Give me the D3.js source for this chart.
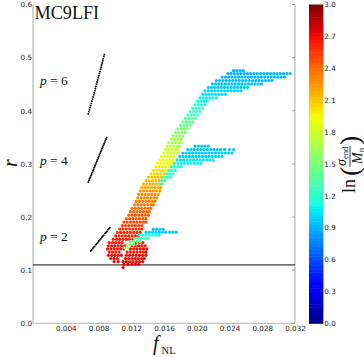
<!DOCTYPE html>
<html>
<head>
<meta charset="utf-8">
<script src="https://cdn.jsdelivr.net/npm/d3@7"></script>
<style>
  body { margin: 0; background: #fff; }
  svg { display: block; }
</style>
</head>
<body>
<svg id="chart" width="364" height="357"></svg>
<script>
// ---- data ----
const xTicks = [0.004, 0.008, 0.012, 0.016, 0.020, 0.024, 0.028, 0.032];
const yTicks = [0.0, 0.1, 0.2, 0.3, 0.4, 0.5, 0.6];
const cbTicks = [0.0, 0.3, 0.6, 0.9, 1.2, 1.5, 1.8, 2.1, 2.4, 2.7, 3.0];
const rRef = 0.11;
const panelName = "MC9LFI";

// black model curves [fNL, r]
const p6Line = [[0.00675,0.394],[0.00683,0.398],[0.00690,0.402],[0.00697,0.406],[0.00704,0.410],[0.00712,0.414],[0.00719,0.418],[0.00726,0.422],[0.00733,0.426],[0.00741,0.430],[0.00748,0.434],[0.00755,0.438],[0.00762,0.442],[0.00769,0.446],[0.00776,0.450],[0.00783,0.454],[0.00790,0.458],[0.00797,0.462],[0.00804,0.466],[0.00811,0.470],[0.00818,0.474],[0.00825,0.478],[0.00831,0.482],[0.00838,0.486],[0.00845,0.490],[0.00852,0.494],[0.00858,0.498],[0.00865,0.502],[0.00872,0.506]];
const p4Line = [[0.00676,0.266],[0.00684,0.269],[0.00692,0.272],[0.00700,0.275],[0.00708,0.278],[0.00716,0.281],[0.00724,0.284],[0.00732,0.287],[0.00740,0.290],[0.00748,0.293],[0.00756,0.296],[0.00764,0.299],[0.00772,0.302],[0.00780,0.305],[0.00788,0.308],[0.00796,0.311],[0.00804,0.314],[0.00812,0.317],[0.00820,0.320],[0.00828,0.323],[0.00836,0.326],[0.00844,0.329],[0.00852,0.332],[0.00860,0.335],[0.00868,0.338],[0.00876,0.341],[0.00884,0.344],[0.00892,0.347],[0.00900,0.350]];
const p2Line = [[0.00705,0.136],[0.00717,0.138],[0.00730,0.141],[0.00742,0.143],[0.00754,0.145],[0.00767,0.148],[0.00779,0.150],[0.00792,0.152],[0.00804,0.155],[0.00816,0.157],[0.00829,0.159],[0.00841,0.162],[0.00853,0.164],[0.00866,0.166],[0.00878,0.169],[0.00891,0.171],[0.00903,0.173],[0.00915,0.176],[0.00928,0.178],[0.00940,0.180]];

// scatter, one row per r level: [r, ln(sigma_end/M_n), fNL...]
const cloudRows = [
  [0.152, 2.66, 0.0093,0.0097,0.0101,0.0105,0.0109,0.0126,0.0130,0.0134],
  [0.146, 2.68, 0.0092,0.0096,0.0100,0.0104,0.0108,0.0112,0.0121,0.0125,0.0129,0.0133,0.0137],
  [0.140, 2.70, 0.0091,0.0095,0.0099,0.0103,0.0107,0.0111,0.0119,0.0123,0.0127,0.0131,0.0135,0.0139],
  [0.134, 2.67, 0.0093,0.0097,0.0101,0.0105,0.0115,0.0119,0.0123,0.0127,0.0131,0.0135,0.0138],
  [0.128, 2.70, 0.0092,0.0096,0.0100,0.0104,0.0108,0.0114,0.0118,0.0122,0.0126,0.0130,0.0134,0.0138],
  [0.122, 2.72, 0.0095,0.0099,0.0103,0.0113,0.0117,0.0121,0.0125,0.0129,0.0133,0.0136],
  [0.116, 2.70, 0.0099,0.0104,0.0110,0.0114,0.0118,0.0122,0.0126,0.0130,0.0134],
  [0.111, 2.74, 0.0111,0.0116,0.0121,0.0125,0.0129],
  [0.105, 2.70, 0.0110]
];
const p6Rows = [
  [0.158, 2.66, 0.0098,0.0102,0.0106,0.0110,0.0114,0.0118,0.0122],
  [0.1645, 2.63, 0.0101,0.0105,0.0109,0.0113,0.0117,0.0121,0.0125,0.0129],
  [0.171, 2.60, 0.0103,0.0107,0.0111,0.0115,0.0119,0.0123,0.0127,0.0131],
  [0.1775, 2.57, 0.0106,0.0110,0.0114,0.0118,0.0122,0.0126,0.0130,0.0133],
  [0.184, 2.54, 0.0109,0.0113,0.0117,0.0121,0.0125,0.0129,0.0133],
  [0.1905, 2.51, 0.0111,0.0115,0.0119,0.0123,0.0127,0.0131,0.0135,0.0138],
  [0.197, 2.48, 0.0114,0.0118,0.0122,0.0126,0.0130,0.0134,0.0138],
  [0.2035, 2.45, 0.0117,0.0121,0.0125,0.0129,0.0133,0.0137,0.0141],
  [0.210, 2.42, 0.0119,0.0123,0.0127,0.0131,0.0135,0.0139,0.0142],
  [0.2165, 2.40, 0.0121,0.0125,0.0129,0.0133,0.0137,0.0141,0.0144],
  [0.223, 2.37, 0.0124,0.0128,0.0132,0.0136,0.0140,0.0144,0.0147],
  [0.2295, 2.34, 0.0126,0.0130,0.0134,0.0138,0.0142,0.0146,0.0149],
  [0.236, 2.31, 0.0128,0.0132,0.0136,0.0140,0.0144,0.0148,0.0151],
  [0.2425, 2.28, 0.0129,0.0133,0.0137,0.0141,0.0145,0.0149,0.0153],
  [0.249, 2.25, 0.0131,0.0135,0.0139,0.0143,0.0147,0.0151,0.0155],
  [0.2555, 2.22, 0.0133,0.0137,0.0141,0.0145,0.0149,0.0153,0.0156],
  [0.262, 2.18, 0.0135,0.0139,0.0143,0.0147,0.0151,0.0155],
  [0.2685, 2.14, 0.0138,0.0142,0.0146,0.0150,0.0154,0.0158],
  [0.275, 2.10, 0.0141,0.0145,0.0149,0.0153,0.0157,0.0161],
  [0.2815, 2.06, 0.0144,0.0148,0.0152,0.0156,0.0160,0.0164],
  [0.288, 2.02, 0.0147,0.0151,0.0155,0.0159,0.0163,0.0167],
  [0.2945, 1.98, 0.0150,0.0154,0.0158,0.0162,0.0166,0.0169],
  [0.301, 1.94, 0.0152,0.0156,0.0160,0.0164,0.0168,0.0171],
  [0.3075, 1.90, 0.0155,0.0159,0.0163,0.0167,0.0171],
  [0.314, 1.86, 0.0157,0.0161,0.0165,0.0169,0.0173],
  [0.3205, 1.82, 0.0160,0.0164,0.0168,0.0172,0.0176],
  [0.327, 1.78, 0.0162,0.0166,0.0170,0.0174,0.0177],
  [0.3335, 1.73, 0.0164,0.0168,0.0172,0.0176,0.0179],
  [0.340, 1.68, 0.0166,0.0170,0.0174,0.0178,0.0181],
  [0.3465, 1.64, 0.0169,0.0173,0.0177,0.0181],
  [0.353, 1.60, 0.0171,0.0175,0.0179,0.0183],
  [0.3595, 1.55, 0.0174,0.0178,0.0182,0.0186],
  [0.366, 1.50, 0.0177,0.0181,0.0185,0.0189],
  [0.3725, 1.45, 0.0180,0.0184,0.0188,0.0192],
  [0.379, 1.40, 0.0183,0.0187,0.0191,0.0195],
  [0.3855, 1.35, 0.0186,0.0190,0.0194,0.0198],
  [0.392, 1.30, 0.0189,0.0193,0.0197,0.0201],
  [0.3985, 1.26, 0.0192,0.0196,0.0200,0.0204],
  [0.405, 1.22, 0.0195,0.0199,0.0203,0.0207],
  [0.4115, 1.18, 0.0198,0.0202,0.0206,0.0210],
  [0.418, 1.12, 0.0201,0.0205,0.0209,0.0213],
  [0.4245, 1.08, 0.0204,0.0208,0.0212,0.0216,0.0220,0.0224],
  [0.431, 1.04, 0.0207,0.0211,0.0215,0.0219,0.0223,0.0227,0.0231,0.0235],
  [0.4375, 1.00, 0.0210,0.0214,0.0218,0.0222,0.0226,0.0230,0.0234,0.0238,0.0242,0.0246,0.0250,0.0254],
  [0.444, 0.97, 0.0214,0.0218,0.0222,0.0226,0.0230,0.0234,0.0238,0.0242,0.0246,0.0250,0.0254,0.0258,0.0262],
  [0.4505, 0.95, 0.0219,0.0223,0.0227,0.0231,0.0235,0.0239,0.0243,0.0247,0.0251,0.0255,0.0259,0.0263,0.0267,0.0271,0.0275,0.0279],
  [0.457, 0.93, 0.0224,0.0228,0.0232,0.0236,0.0240,0.0244,0.0248,0.0252,0.0256,0.0260,0.0264,0.0268,0.0272,0.0276,0.0280,0.0284,0.0288,0.0292],
  [0.4635, 0.92, 0.0231,0.0235,0.0239,0.0243,0.0247,0.0251,0.0255,0.0259,0.0263,0.0267,0.0271,0.0275,0.0279,0.0283,0.0287,0.0291,0.0295,0.0299,0.0303,0.0307],
  [0.470, 0.90, 0.0238,0.0242,0.0246,0.0250,0.0254,0.0258,0.0262,0.0266,0.0270,0.0274,0.0278,0.0282,0.0286,0.0290,0.0294,0.0298,0.0302,0.0306,0.0310,0.0314],
  [0.4755, 0.90, 0.0245,0.0249,0.0253,0.0257]
];
const p4Rows = [
  [0.262, 1.30, 0.0154,0.0158],
  [0.2685, 1.28, 0.0157,0.0161],
  [0.275, 1.25, 0.0160,0.0164,0.0168],
  [0.2815, 1.22, 0.0163,0.0167,0.0171],
  [0.288, 1.18, 0.0166,0.0170,0.0174],
  [0.2945, 1.14, 0.0169,0.0173,0.0177,0.0181],
  [0.301, 1.10, 0.0173,0.0177,0.0181,0.0185,0.0189,0.0193,0.0197,0.0201,0.0205],
  [0.3075, 1.05, 0.0176,0.0180,0.0184,0.0188,0.0192,0.0196,0.0200,0.0204,0.0208,0.0212,0.0216,0.0220],
  [0.314, 1.00, 0.0179,0.0183,0.0187,0.0191,0.0195,0.0199,0.0203,0.0207,0.0211,0.0215,0.0219,0.0223,0.0227,0.0231],
  [0.3205, 0.97, 0.0183,0.0187,0.0191,0.0195,0.0199,0.0203,0.0207,0.0211,0.0215,0.0219,0.0223,0.0227,0.0231,0.0235,0.0239,0.0243],
  [0.327, 0.95, 0.0189,0.0193,0.0197,0.0201,0.0205,0.0209,0.0213,0.0217,0.0221,0.0225,0.0229,0.0234,0.0240,0.0245],
  [0.3335, 0.95, 0.0198,0.0202,0.0206,0.0210,0.0214]
];
const p2Rows = [
  [0.142, 1.60, 0.0112,0.0116],
  [0.148, 1.50, 0.0115,0.0119,0.0123],
  [0.154, 1.40, 0.0119,0.0123,0.0127,0.0131],
  [0.160, 1.28, 0.0124,0.0128,0.0132,0.0136,0.0140],
  [0.166, 1.12, 0.0130,0.0134,0.0138,0.0142,0.0146,0.0150,0.0154],
  [0.1715, 0.98, 0.0138,0.0142,0.0146,0.0150,0.0154,0.0158,0.0162,0.0167,0.0171,0.0175],
  [0.177, 0.93, 0.0147,0.0151,0.0155,0.0159]
];
const pLabels = [["6", 0.4476], ["4", 0.298], ["2", 0.155]];

// ---- setup ----
const svg = d3.select("#chart");
const x = d3.scaleLinear().domain([0, 0.032]).range([33, 295]);
const y = d3.scaleLinear().domain([0, 0.6]).range([323.3, 4.5]);
const cb = d3.scaleLinear().domain([0, 3]).range([323.3, 4.5]);

// matplotlib "jet"
const jetR = d3.scaleLinear().domain([0, 0.35, 0.66, 0.89, 1]).range([0, 0, 1, 1, 0.5]).clamp(true);
const jetG = d3.scaleLinear().domain([0, 0.125, 0.375, 0.64, 0.91, 1]).range([0, 0, 1, 1, 0, 0]).clamp(true);
const jetB = d3.scaleLinear().domain([0, 0.11, 0.34, 0.65, 1]).range([0.5, 1, 1, 0, 0]).clamp(true);
const color = v => {
  const t = v / 3;
  return d3.rgb(255 * jetR(t), 255 * jetG(t), 255 * jetB(t)).formatHex();
};

function rowsToPoints(rows) {
  const pts = [];
  rows.forEach(([r, c, ...fs]) => fs.forEach(f => pts.push({ f, r, c })));
  return pts;
}

const tickFont = "'DejaVu Sans', sans-serif";
const serif = "'Liberation Serif', 'Times New Roman', serif";

// spines
svg.append("line").attr("x1", 33).attr("x2", 33).attr("y1", y(0.6)).attr("y2", y(0))
  .attr("stroke", "#a8a8a8").attr("stroke-width", 1);
svg.append("line").attr("x1", 33).attr("x2", x(0.032)).attr("y1", y(0)).attr("y2", y(0))
  .attr("stroke", "#b4b4b4").attr("stroke-width", 1);
svg.append("line").attr("x1", x(0.032)).attr("x2", x(0.032)).attr("y1", y(0.6)).attr("y2", y(0))
  .attr("stroke", "#d4d4d4").attr("stroke-width", 2);
svg.append("g").selectAll("line").data(yTicks).join("line")
  .attr("x1", x(0.032) - 3).attr("x2", x(0.032)).attr("y1", d => y(d)).attr("y2", d => y(d))
  .attr("stroke", "#999").attr("stroke-width", 1);

// axes labels
const yAxis = svg.append("g").attr("transform", "translate(33,0)")
  .call(d3.axisLeft(y).tickValues(yTicks).tickFormat(d3.format(".1f")).tickSize(0).tickPadding(1));
const xAxis = svg.append("g").attr("transform", `translate(0,${y(0)})`)
  .call(d3.axisBottom(x).tickValues(xTicks).tickFormat(d3.format(".3f")).tickSize(0).tickPadding(3));
[yAxis, xAxis].forEach(a => {
  a.select(".domain").remove();
  a.selectAll("text").attr("font-family", tickFont).attr("font-size", 7.2).attr("fill", "#222");
});

// reference line r = 0.11
svg.append("line").attr("x1", x(0)).attr("x2", x(0.032)).attr("y1", y(rRef)).attr("y2", y(rRef))
  .attr("stroke", "#404040").attr("stroke-width", 1.2);

// scatter
const dots = svg.append("g");
[cloudRows, p6Rows, p4Rows, p2Rows].forEach(rows => {
  dots.append("g").selectAll("circle").data(rowsToPoints(rows)).join("circle")
    .attr("cx", d => x(d.f)).attr("cy", d => y(d.r)).attr("r", 1.6)
    .attr("fill", d => color(d.c));
});

// model curves
[p6Line, p4Line, p2Line].forEach(line => {
  svg.append("g").selectAll("circle").data(line).join("circle")
    .attr("cx", d => x(d[0])).attr("cy", d => y(d[1])).attr("r", 0.95).attr("fill", "#000");
});

// p labels
pLabels.forEach(([p, r]) => {
  const t = svg.append("text").attr("x", x(0.00085)).attr("y", y(r))
    .attr("font-family", serif).attr("font-size", 13.5).attr("fill", "#111");
  t.append("tspan").attr("font-style", "italic").text("p");
  t.append("tspan").text(" = " + p);
});

// panel name
svg.append("text").attr("x", 34.5).attr("y", 19.3)
  .attr("font-family", serif).attr("font-size", 18.2).attr("fill", "#111").text(panelName);

// axis titles
svg.append("text").attr("transform", "translate(17,163) rotate(-90)")
  .attr("text-anchor", "middle").attr("font-family", serif).attr("font-style", "italic")
  .attr("font-size", 20).attr("fill", "#111").text("r");
const fl = svg.append("text").attr("x", 153).attr("y", 350)
  .attr("font-family", serif).attr("fill", "#111");
fl.append("tspan").attr("font-style", "italic").attr("font-size", 20).text("f");
fl.append("tspan").attr("font-size", 10.5).attr("dx", 3).attr("dy", 4).text("NL");

// colorbar
const nBands = 100;
const bandVals = d3.range(nBands).map(i => (i * 3) / nBands);
svg.append("g").selectAll("rect").data(bandVals).join("rect")
  .attr("x", 309).attr("width", 14.3)
  .attr("y", d => cb(d + 3 / nBands)).attr("height", d => cb(d) - cb(d + 3 / nBands) + 0.5)
  .attr("fill", d => color(d + 1.5 / nBands));
const cbAxis = svg.append("g").attr("transform", "translate(323.3,0)")
  .call(d3.axisRight(cb).tickValues(cbTicks).tickFormat(d3.format(".1f")).tickSize(0).tickPadding(1));
cbAxis.select(".domain").remove();
cbAxis.selectAll("text").attr("font-family", tickFont).attr("font-size", 7.2).attr("fill", "#222");

// colorbar title ln(sigma_end / M_n)
const lab = svg.append("g").attr("transform", "translate(350,162) rotate(-90)")
  .attr("font-family", serif).attr("fill", "#111");
lab.append("text").attr("x", -31).attr("y", 5).attr("font-size", 18).text("ln");
lab.append("text").attr("x", -14).attr("y", 8.5).attr("font-size", 28).text("(");
const num = lab.append("text").attr("x", -4).attr("y", -4);
num.append("tspan").attr("font-style", "italic").attr("font-size", 14).text("σ");
num.append("tspan").attr("font-size", 8.5).attr("dy", 2).text("end");
lab.append("line").attr("x1", -5).attr("x2", 16).attr("y1", 0).attr("y2", 0)
  .attr("stroke", "#111").attr("stroke-width", 0.8);
const den = lab.append("text").attr("x", -2).attr("y", 11.5);
den.append("tspan").attr("font-style", "italic").attr("font-size", 14).text("M");
den.append("tspan").attr("font-size", 8.5).attr("dy", 2).text("n");
lab.append("text").attr("x", 17).attr("y", 8.5).attr("font-size", 28).text(")");
</script>
</body>
</html>
